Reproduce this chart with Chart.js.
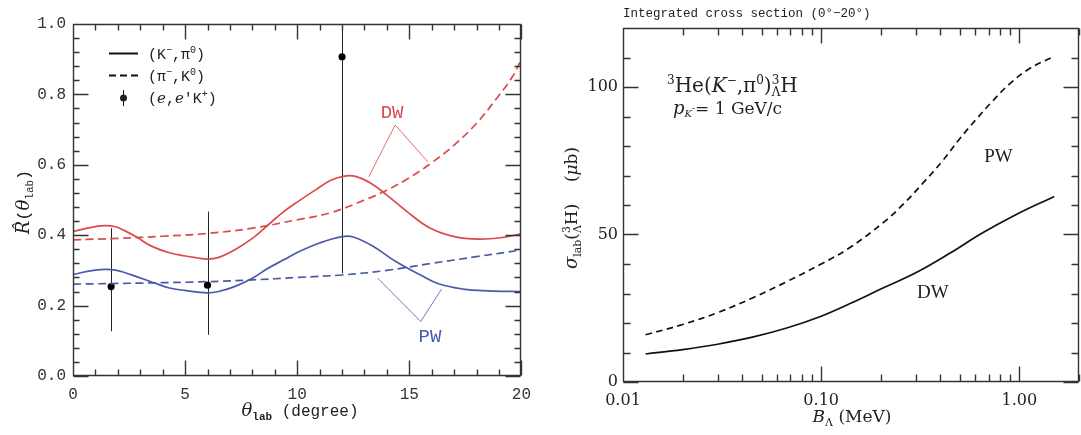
<!DOCTYPE html>
<html>
<head>
<meta charset="utf-8">
<script src="https://cdn.jsdelivr.net/npm/chart.js@4.4.1/dist/chart.umd.min.js"></script>
<style>
  html, body { margin: 0; padding: 0; background: #fff; }
  .panel { position: absolute; top: 0; height: 435px; }
</style>
</head>
<body>
<div class="panel" style="left:0;width:540px"><canvas id="ratio"></canvas></div>
<div class="panel" style="left:540px;width:541px"><canvas id="sigma"></canvas></div>
<script>
// ---- left panel: R(theta_lab) ----
const dwKpiX = [0, 0.7, 1.4, 1.9, 2.3, 2.8, 3.5, 4.3, 5.0, 5.5, 6.0, 6.5, 7.2, 8.0, 8.7, 9.4, 10.0, 10.8, 11.5, 12.1, 12.6, 13.3, 14.0, 14.9, 15.9, 17.0, 18.1, 19.2, 20];
const dwKpiY = [0.410, 0.421, 0.427, 0.424, 0.413, 0.396, 0.369, 0.350, 0.341, 0.336, 0.332, 0.337, 0.358, 0.391, 0.429, 0.467, 0.494, 0.528, 0.556, 0.568, 0.567, 0.547, 0.514, 0.467, 0.421, 0.396, 0.389, 0.394, 0.404];
const dwPiKX = [0, 2, 4, 6, 8, 10, 11.5, 13, 14, 15, 16, 17, 18, 18.9, 19.6, 20];
const dwPiKY = [0.387, 0.391, 0.397, 0.405, 0.420, 0.444, 0.464, 0.500, 0.528, 0.563, 0.606, 0.656, 0.718, 0.789, 0.850, 0.900];
const pwKpiX = [0, 0.7, 1.4, 1.9, 2.3, 2.8, 3.6, 4.3, 5.0, 6.0, 6.5, 7.2, 8.0, 8.7, 9.4, 10.0, 11.0, 12.0, 12.5, 13.4, 14.4, 15.5, 16.3, 17.4, 18.5, 20];
const pwKpiY = [0.288, 0.298, 0.303, 0.301, 0.294, 0.283, 0.265, 0.250, 0.243, 0.236, 0.240, 0.254, 0.278, 0.306, 0.330, 0.351, 0.378, 0.396, 0.395, 0.368, 0.325, 0.287, 0.262, 0.247, 0.242, 0.240];
const pwPiKX = [0, 3, 6, 8, 10, 12, 14, 16, 18, 20];
const pwPiKY = [0.261, 0.264, 0.268, 0.273, 0.280, 0.287, 0.300, 0.320, 0.339, 0.358];
const eekX = [1.7, 6.0, 12.0];
const eekY = [0.254, 0.258, 0.907];
const eekLow = [0.127, 0.117, 0.292];
const eekHigh = [0.420, 0.467, 1.5];
const thetaMajor = [0, 5, 10, 15, 20];
const ratioMajor = [0, 0.2, 0.4, 0.6, 0.8, 1.0];

// ---- right panel: integrated cross section ----
const bLambdaPW = [0.013, 0.02, 0.03, 0.045, 0.067, 0.1, 0.139, 0.2046, 0.258, 0.326, 0.41, 0.498, 0.605, 0.734, 0.891, 1.123, 1.455];
const sigmaPW = [16.0, 19.5, 23.5, 28.5, 34.0, 40.0, 45.5, 53.9, 60.1, 67.4, 75.0, 82.3, 89.0, 95.3, 101.0, 106.2, 110.0];
const bLambdaDW = [0.013, 0.02, 0.03, 0.045, 0.067, 0.1, 0.139, 0.2, 0.3, 0.45, 0.65, 0.96, 1.5];
const sigmaDW = [9.5, 11.0, 12.8, 15.2, 18.3, 22.3, 26.5, 31.5, 37.0, 43.8, 50.5, 56.7, 62.9];
const bMajor = [0.01, 0.1, 1];
const sigmaMajor = [0, 50, 100];

const RED = '#dc4a4c';
const BLUE = '#4a5aab';
const FRAME = '#333';
const MONO = '"Liberation Mono", monospace';
const SERIF = '"DejaVu Serif", serif';

function pts(xs, ys) { return xs.map((x, i) => ({ x: x, y: ys[i] })); }

function rich(ctx, x, y, parts, align) {
  // parts: [text, font, dy, noAdvance]
  let w = 0;
  parts.forEach(p => { ctx.font = p[1]; if (!p[3]) w += ctx.measureText(p[0]).width; });
  let cx = align === 'center' ? x - w / 2 : x;
  parts.forEach(p => {
    ctx.font = p[1];
    ctx.fillText(p[0], cx, y + (p[2] || 0));
    if (!p[3]) cx += ctx.measureText(p[0]).width;
  });
}

// minor tick positions
const thetaMinor = [];
for (let i = 1; i < 20; i++) if (i % 5) thetaMinor.push(i);
const ratioMinor = [];
for (let i = 1; i < 25; i++) if (i % 5) ratioMinor.push(i * 0.04);
const bMinor = [];
bMajor.forEach(d => { for (let m = 2; m <= 9; m++) if (m * d <= 2) bMinor.push(m * d); });
const sigmaMinor = [];
for (let v = 10; v <= 120; v += 10) if (v % 50) sigmaMinor.push(v);

// box around the plot with inward ticks on all four sides
function drawFrame(chart, xMajor, xMinor, yMajor, yMinor, lens) {
  const ctx = chart.ctx, a = chart.chartArea;
  const sx = chart.scales.x, sy = chart.scales.y;
  const L = Math.round(a.left) + 0.5, R = Math.round(a.right) - 0.5;
  const T = Math.round(a.top) + 0.5, B = Math.round(a.bottom) - 0.5;
  ctx.save();
  ctx.setLineDash([]);
  ctx.strokeStyle = FRAME;
  ctx.lineWidth = 1.4;
  ctx.beginPath();
  ctx.moveTo(L, T); ctx.lineTo(R, T); ctx.lineTo(R, B); ctx.lineTo(L, B); ctx.closePath();
  xMajor.concat(xMinor).forEach((v, i) => {
    const len = i < xMajor.length ? lens[0] : lens[1];
    const p = Math.round(sx.getPixelForValue(v)) + 0.5;
    ctx.moveTo(p, B); ctx.lineTo(p, B - len);
    ctx.moveTo(p, T); ctx.lineTo(p, T + len);
  });
  yMajor.concat(yMinor).forEach((v, i) => {
    const len = i < yMajor.length ? lens[0] : lens[1];
    const p = Math.round(sy.getPixelForValue(v)) + 0.5;
    ctx.moveTo(L, p); ctx.lineTo(L + len, p);
    ctx.moveTo(R, p); ctx.lineTo(R - len, p);
  });
  ctx.stroke();
  ctx.restore();
}

const ratioDecor = {
  id: 'ratioDecor',
  beforeDatasetsDraw(chart) {
    const { ctx, chartArea: a, scales: { x, y } } = chart;
    ctx.save();
    ctx.beginPath();
    ctx.rect(a.left, a.top, a.right - a.left, a.bottom - a.top);
    ctx.clip();
    ctx.strokeStyle = '#222';
    ctx.lineWidth = 1;
    ctx.beginPath();
    eekX.forEach((v, i) => {
      const px = Math.round(x.getPixelForValue(v)) + 0.5;
      ctx.moveTo(px, y.getPixelForValue(eekLow[i]));
      ctx.lineTo(px, y.getPixelForValue(eekHigh[i]));
    });
    ctx.stroke();
    ctx.restore();
  },
  afterDraw(chart) {
    const { ctx, scales: { x, y } } = chart;
    drawFrame(chart, thetaMajor, thetaMinor, ratioMajor, ratioMinor, [15, 6]);
    ctx.save();
    // leader lines for DW / PW
    const leader = (col, apex, ends) => {
      ctx.strokeStyle = col; ctx.lineWidth = 0.8;
      ctx.beginPath();
      ends.forEach(e => {
        ctx.moveTo(x.getPixelForValue(apex[0]), y.getPixelForValue(apex[1]));
        ctx.lineTo(x.getPixelForValue(e[0]), y.getPixelForValue(e[1]));
      });
      ctx.stroke();
    };
    leader(RED, [14.37, 0.713], [[13.19, 0.566], [15.82, 0.609]]);
    leader(BLUE, [15.51, 0.155], [[13.59, 0.278], [16.44, 0.247]]);
    ctx.textBaseline = 'middle';
    ctx.textAlign = 'center';
    ctx.font = '19px ' + MONO;
    ctx.fillStyle = RED;
    ctx.fillText('DW', x.getPixelForValue(14.23), y.getPixelForValue(0.746));
    ctx.fillStyle = BLUE;
    ctx.fillText('PW', x.getPixelForValue(15.92), y.getPixelForValue(0.112));

    // legend
    ctx.textAlign = 'left';
    ctx.textBaseline = 'alphabetic';
    ctx.strokeStyle = '#111';
    ctx.fillStyle = '#222';
    ctx.lineWidth = 2;
    ctx.beginPath(); ctx.moveTo(109, 53.5); ctx.lineTo(138, 53.5); ctx.stroke();
    ctx.setLineDash([7, 4]);
    ctx.beginPath(); ctx.moveTo(109, 75.5); ctx.lineTo(138, 75.5); ctx.stroke();
    ctx.setLineDash([]);
    ctx.lineWidth = 1;
    ctx.beginPath(); ctx.moveTo(123.5, 90); ctx.lineTo(123.5, 106); ctx.stroke();
    ctx.beginPath(); ctx.arc(123.5, 98, 3.5, 0, Math.PI * 2); ctx.fill();
    const m15 = '15px ' + MONO, m10 = '10px ' + MONO, it15 = 'italic 15px ' + SERIF;
    rich(ctx, 148, 59, [['(K', m15], ['\u2212', m10, -6], [',\u03c0', m15], ['0', m10, -6], [')', m15]]);
    rich(ctx, 148, 81, [['(\u03c0', m15], ['\u2212', m10, -6], [',K', m15], ['0', m10, -6], [')', m15]]);
    rich(ctx, 148, 103, [['(', m15], ['e', it15], [',', m15], ['e', it15], ['\u2032K', m15], ['+', m10, -6], [')', m15]]);

    // axis titles
    ctx.fillStyle = '#222';
    rich(ctx, 300, 416, [['\u03b8', 'italic 18px ' + SERIF], ['lab', 'bold 11px ' + MONO, 4], [' (degree)', '16px ' + MONO]], 'center');
    ctx.translate(29, 202);
    ctx.rotate(-Math.PI / 2);
    rich(ctx, 0, 0, [['R\u0302', 'italic 18px ' + SERIF], ['(', '17px ' + MONO], ['\u03b8', 'italic 18px ' + SERIF], ['lab', '11px ' + MONO, 4], [')', '17px ' + MONO]], 'center');
    ctx.restore();
  }
};

const sigmaDecor = {
  id: 'sigmaDecor',
  afterDraw(chart) {
    const { ctx, scales: { x, y } } = chart;
    drawFrame(chart, bMajor, bMinor, sigmaMajor, sigmaMinor, [15, 7]);
    ctx.save();
    ctx.fillStyle = '#222';
    ctx.textBaseline = 'alphabetic';
    ctx.font = '12.5px ' + MONO;
    ctx.fillText('Integrated cross section (0\u00b0\u221220\u00b0)', 83, 17);

    const s20 = '20px ' + SERIF, s12 = '12px ' + SERIF;
    rich(ctx, 127, 92, [['3', s12, -8], ['He(', s20], ['K', 'italic ' + s20], ['\u2212', s12, -8], [',\u03c0', s20], ['0', s12, -8], [')', s20], ['3', s12, -8, true], ['\u039b', s12, 4], ['H', s20]]);
    rich(ctx, 133, 114, [['p', 'italic 18px ' + SERIF], ['K', 'italic 10px ' + SERIF, 3], ['-', '9px ' + SERIF, -3], ['= 1 GeV/c', '17px ' + SERIF]]);

    ctx.textAlign = 'center';
    ctx.textBaseline = 'middle';
    ctx.font = '19px "Liberation Serif", serif';
    ctx.fillText('PW', x.getPixelForValue(0.785), y.getPixelForValue(76.3));
    ctx.fillText('DW', x.getPixelForValue(0.366), y.getPixelForValue(30.2));

    ctx.textAlign = 'left';
    ctx.textBaseline = 'alphabetic';
    rich(ctx, 312, 422, [['B', 'italic 17px ' + SERIF], ['\u039b', '11px ' + SERIF, 4], [' (MeV)', '17px ' + SERIF]], 'center');
    ctx.translate(37, 208);
    ctx.rotate(-Math.PI / 2);
    const r17 = '17px ' + SERIF, r11 = '11px ' + SERIF;
    rich(ctx, 0, 0, [['\u03c3', 'italic 18px ' + SERIF], ['lab', r11, 4], ['(', r17], ['3', r11, -7, true], ['\u039b', r11, 4], ['H', r17], [')', r17], ['    (', r17], ['\u03bc', 'italic ' + r17], ['b', r17], [')', r17]], 'center');
    ctx.restore();
  }
};

const lineDs = (xs, ys, color, dash) => ({
  data: pts(xs, ys), showLine: true, borderColor: color, borderWidth: 1.7,
  borderDash: dash || [], pointRadius: 0, tension: 0.4, fill: false
});

new Chart(document.getElementById('ratio'), {
  type: 'scatter',
  data: {
    datasets: [
      lineDs(dwKpiX, dwKpiY, RED),
      lineDs(dwPiKX, dwPiKY, RED, [8, 4.5]),
      lineDs(pwKpiX, pwKpiY, BLUE),
      lineDs(pwPiKX, pwPiKY, BLUE, [8, 4.5]),
      { data: pts(eekX, eekY), pointRadius: 3.6, pointBackgroundColor: '#000', pointBorderWidth: 0 }
    ]
  },
  options: {
    responsive: true, maintainAspectRatio: false, animation: false,
    layout: { padding: { left: 0, right: 14, top: 24, bottom: 0 } },
    plugins: { legend: { display: false }, tooltip: { enabled: false } },
    scales: {
      x: {
        type: 'linear', min: 0, max: 20,
        grid: { display: false, drawTicks: false }, border: { display: false },
        ticks: { stepSize: 5, padding: 9, maxRotation: 0, color: '#333', font: { family: MONO, size: 16 } },
        afterFit: s => { s.height = 59; }
      },
      y: {
        min: 0, max: 1,
        grid: { display: false, drawTicks: false }, border: { display: false },
        ticks: { stepSize: 0.2, padding: 7, color: '#333', font: { family: MONO, size: 16 }, callback: v => v.toFixed(1) },
        afterFit: s => { s.width = 73; }
      }
    }
  },
  plugins: [ratioDecor]
});

new Chart(document.getElementById('sigma'), {
  type: 'scatter',
  data: {
    datasets: [
      lineDs(bLambdaPW, sigmaPW, '#111', [6.5, 4.5]),
      lineDs(bLambdaDW, sigmaDW, '#111')
    ]
  },
  options: {
    responsive: true, maintainAspectRatio: false, animation: false,
    layout: { padding: { left: 0, right: 2, top: 28, bottom: 0 } },
    plugins: { legend: { display: false }, tooltip: { enabled: false } },
    scales: {
      x: {
        type: 'logarithmic', min: 0.01, max: 2,
        grid: { display: false, drawTicks: false }, border: { display: false },
        afterBuildTicks: s => { s.ticks = bMajor.map(v => ({ value: v })); },
        ticks: { autoSkip: false, maxRotation: 0, padding: 9, color: '#222', font: { family: SERIF, size: 16 }, callback: v => Number(v).toFixed(2) },
        afterFit: s => { s.height = 53; }
      },
      y: {
        min: 0, max: 120,
        grid: { display: false, drawTicks: false }, border: { display: false },
        afterBuildTicks: s => { s.ticks = sigmaMajor.map(v => ({ value: v })); },
        ticks: { autoSkip: false, padding: 5, color: '#222', font: { family: SERIF, size: 16 }, callback: v => String(v) },
        afterFit: s => { s.width = 83; }
      }
    }
  },
  plugins: [sigmaDecor]
});
</script>
</body>
</html>
